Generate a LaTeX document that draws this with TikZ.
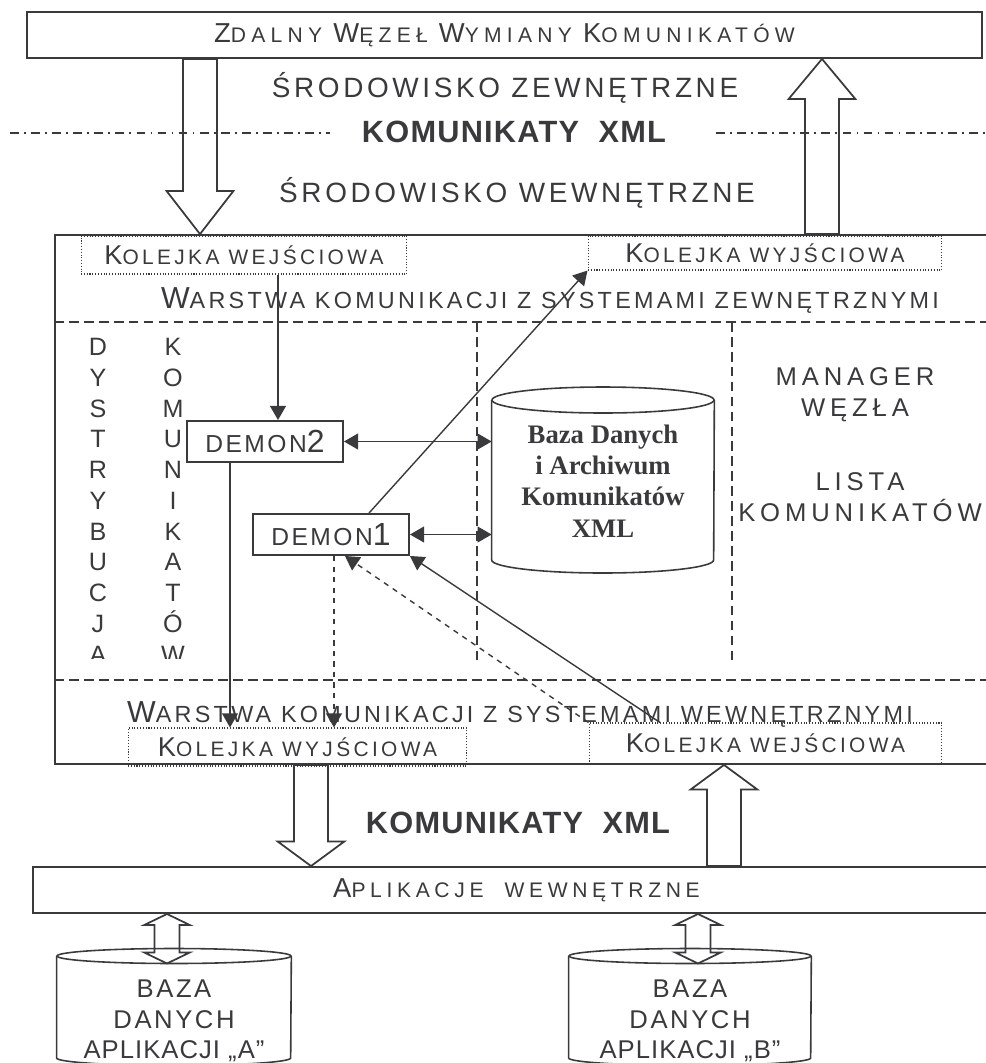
\documentclass[tikz,border=0pt]{standalone}
\usepackage{fontspec}
\setmainfont{Liberation Sans}[LetterSpace=10]
\newfontfamily\dbfont{Liberation Serif}
\usetikzlibrary{positioning, arrows.meta, calc}
\definecolor{ink}{HTML}{3A3A3C}
\tikzstyle{arrow} = [ink, line width=0.8pt, -{Triangle[length=8pt,width=9pt]}]
\tikzstyle{twoway} = [ink, line width=0.8pt, {Triangle[length=8pt,width=9pt]}-{Triangle[length=8pt,width=9pt]}]
\makeatletter
\newcommand\ini[1]{{\fontsize{\fpeval{1.3*\f@size}}{\f@baselineskip}\selectfont #1}}
\makeatother
\newcommand\track[1]{\addfontfeatures{LetterSpace=#1}}
% hollow block arrows, vertical only
\tikzset{
  fat w/.store in=\fatw, fat head/.store in=\fathw, fat len/.store in=\fathl,
  fat w=9.7pt, fat head=19pt, fat len=24pt,
  fat/.style={draw=ink, line width=1pt, line join=miter},
  fat down/.style={fat, to path={let \p1=(\tikztostart), \p2=(\tikztotarget) in
    (\x2-\fatw,\y1) -- (\x2-\fatw,\y2+\fathl) -- (\x2-\fathw,\y2+\fathl) -- (\p2)
    -- (\x2+\fathw,\y2+\fathl) -- (\x2+\fatw,\y2+\fathl) -- (\x2+\fatw,\y1) -- cycle}},
  fat up/.style={fat, to path={let \p1=(\tikztostart), \p2=(\tikztotarget) in
    (\x2-\fatw,\y1) -- (\x2-\fatw,\y2-\fathl) -- (\x2-\fathw,\y2-\fathl) -- (\p2)
    -- (\x2+\fathw,\y2-\fathl) -- (\x2+\fatw,\y2-\fathl) -- (\x2+\fatw,\y1) -- cycle}},
  fat both/.style={fat, to path={let \p1=(\tikztostart), \p2=(\tikztotarget) in
    (\p1) -- (\x1+\fathw,\y1-\fathl) -- (\x1+\fatw,\y1-\fathl) -- (\x1+\fatw,\y2+\fathl)
    -- (\x1+\fathw,\y2+\fathl) -- (\x1,\y2) -- (\x1-\fathw,\y2+\fathl) -- (\x1-\fatw,\y2+\fathl)
    -- (\x1-\fatw,\y1-\fathl) -- (\x1-\fathw,\y1-\fathl) -- cycle}},
}

\begin{document}
\begin{tikzpicture}[x=0.02cm, y=-0.02cm, nodes={text=ink, inner sep=0pt}]
                \tikzstyle{box} = [draw=ink, line width=1.1pt, rectangle]
                \tikzstyle{queue} = [draw=ink, densely dotted, line width=0.6pt, rectangle, font=\fontsize{11.9}{13}\selectfont\track{16}]
                \tikzstyle{layer} = [anchor=base, font=\fontsize{13.3}{15}\selectfont\track{14}]
                \tikzstyle{env} = [anchor=base, font=\fontsize{15.9}{18}\selectfont\track{13}]
                \tikzstyle{xml} = [anchor=base, font=\bfseries\fontsize{17.5}{20}\selectfont\track{4}]
                \tikzstyle{demon} = [box, minimum width=3.12cm, minimum height=0.82cm, font=\fontsize{14}{16}\selectfont]
                \tikzstyle{column} = [anchor=north, align=center, font=\fontsize{14.3}{17.5}\selectfont]
                \tikzstyle{side} = [anchor=north, align=center, font=\fontsize{14.6}{18}\selectfont\track{19}]
                \tikzstyle{storeline} = [draw=ink, line width=0.9pt]
                \tikzstyle{storetext} = [align=center, font=\fontsize{14.6}{17.4}\selectfont]
                \tikzstyle{sep} = [ink, line width=0.8pt, dash pattern=on 5.5pt off 3pt]
                \tikzstyle{dashdot} = [ink, line width=0.7pt, dash pattern=on 5pt off 3pt on 1pt off 3pt]

                \clip (0,0) rectangle (986,1063);

                % outside world
                \node[box, minimum width=19.1cm, minimum height=0.92cm, font=\fontsize{12}{14}\selectfont\track{25}] (remote) at (504.5,35)
                    {\ini{Z}DALNY \ini{W}ĘZEŁ \ini{W}YMIANY \ini{K}OMUNIKATÓW};
                \node[env] (extenv) at (505,97) {ŚRODOWISKO ZEWNĘTRZNE};
                \node[xml] (xmltop) at (514,142) {KOMUNIKATY~~XML};
                \node[env] (intenv) at (517,202) {ŚRODOWISKO WEWNĘTRZNE};

                % the node itself
                \node[box, minimum width=18.9cm, minimum height=10.58cm] (main) at (527.5,499.5) {};

                % external layer
                \node[queue, minimum width=6.52cm, minimum height=0.76cm] (inq) at (244,255) {\ini{K}OLEJKA WEJŚCIOWA};
                \node[queue, minimum width=7.08cm, minimum height=0.68cm] (outq) at (765,253) {\ini{K}OLEJKA WYJŚCIOWA};
                \node[layer] (extlayer) at (550,308) {\ini{W}ARSTWA KOMUNIKACJI Z SYSTEMAMI ZEWNĘTRZNYMI};

                % internal layer
                \node[layer] (intlayer) at (520,722) {\ini{W}ARSTWA KOMUNIKACJI Z SYSTEMAMI WEWNĘTRZNYMI};
                \node[queue, minimum width=6.78cm, minimum height=0.76cm] (outq2) at (297.5,747) {\ini{K}OLEJKA WYJŚCIOWA};
                \node[queue, minimum width=7.06cm, minimum height=0.82cm] (inq2) at (765.5,743.5) {\ini{K}OLEJKA WEJŚCIOWA};

                % separators
                \draw[sep] (main.west |- 0,322) -- (main.east |- 0,322);
                \draw[sep] (main.west |- 0,680) -- (main.east |- 0,680);
                \draw[sep] (477,322) -- (477,663);
                \draw[sep] (732,322) -- (732,663);
                \draw[dashdot] (10,133) -- (330,133);
                \draw[dashdot] (716,133) -- (986,133);

                % vertical captions, cut off at the bottom
                \begin{scope}
                    \clip (60,325) rectangle (460,658);
                    \node[column] (distrib) at (98,338) {D\\Y\\S\\T\\R\\Y\\B\\U\\C\\J\\A};
                    \node[column] (msgs) at (173,338) {K\\O\\M\\U\\N\\I\\K\\A\\T\\Ó\\W};
                \end{scope}

                \node[demon] (demon2) at (265,441.5) {DEMON\ini{2}};
                \node[demon] (demon1) at (331,534.5) {DEMON\ini{1}};

                % message store
                \node[align=center, minimum width=4.44cm, font=\dbfont\bfseries\fontsize{15.2}{17.8}\selectfont] (db) at (603,481)
                    {Baza Danych\\i Archiwum\\Komunikatów\\XML};
                \draw[storeline] (db |- 0,400) ellipse [x radius=111, y radius=13];
                \draw[storeline] (db.west |- 0,400) -- (db.west |- 0,560) arc[start angle=180, end angle=0, x radius=111, y radius=13] -- (db.east |- 0,400);

                \node[side] (manager) at (855,367) {MANAGER\\WĘZŁA};
                \node[side] (msglist) at (860,472) {LISTA\\KOMUNIKATÓW};

                % message flow
                \draw[arrow] (278,0 |- inq.south) -- (278,0 |- demon2.north);
                \draw[twoway] (demon2.east) -- (db.west |- demon2.east);
                \draw[twoway] (demon1.east) -- (db.west |- demon1.east);
                \draw[arrow] (369,0 |- demon1.north) -- (outq.south west);
                \draw[arrow] (230,0 |- demon2.south) -- (230,0 |- outq2.north);
                \draw[arrow, dashed] (334,0 |- demon1.south) -- (334,0 |- outq2.north);
                \draw[arrow, dashed] (inq2.north west) -- (345,0 |- demon1.south);
                \draw[arrow] (660,0 |- inq2.north) -- (demon1.south east);

                % applications
                \node[box, minimum width=19.34cm, minimum height=0.92cm, font=\fontsize{12}{14}\selectfont\track{22}] (apps) at (516.5,890)
                    {\ini{A}PLIKACJE~~WEWNĘTRZNE};
                \node[xml] (xmlbottom) at (518,833) {KOMUNIKATY~~XML};

                % application databases, cut off by the page edge
                \node[storetext, minimum width=4.68cm] (dbA) at (174,1021) {BAZA\\DANYCH\\{\track{4}APLIKACJI „A”}};
                \draw[storeline] (dbA |- 0,956) ellipse [x radius=117, y radius=7.5];
                \draw[storeline] (dbA.west |- 0,956) -- (dbA.west |- 0,1058) arc[start angle=180, end angle=0, x radius=117, y radius=7.5] -- (dbA.east |- 0,956);
                \coordinate (dbAtop) at (174,963.5);

                \node[storetext, minimum width=4.84cm] (dbB) at (690,1021) {BAZA\\DANYCH\\{\track{4}APLIKACJI „B”}};
                \draw[storeline] (dbB |- 0,956) ellipse [x radius=121, y radius=7.5];
                \draw[storeline] (dbB.west |- 0,956) -- (dbB.west |- 0,1058) arc[start angle=180, end angle=0, x radius=121, y radius=7.5] -- (dbB.east |- 0,956);
                \coordinate (dbBtop) at (690,963.5);

                % block arrows
                \draw[fat down, fat len=24.5pt] (200,0 |- remote.south) to (200,0 |- main.north);
                \draw[fat up, fat len=22.8pt] (822,0 |- main.north) to (822,0 |- remote.south);
                \draw[fat down, fat len=14pt] (311,0 |- main.south) to (311,0 |- apps.north);
                \draw[fat up, fat len=14pt] (724,0 |- apps.north) to (724,0 |- main.south);
                \draw[fat both, fat w=7.1pt, fat head=13pt, fat len=6.3pt] (167,0 |- apps.south) to (167,0 |- dbAtop);
                \draw[fat both, fat w=7.1pt, fat head=13pt, fat len=6.3pt] (698,0 |- apps.south) to (698,0 |- dbBtop);

        \end{tikzpicture}
\end{document}
